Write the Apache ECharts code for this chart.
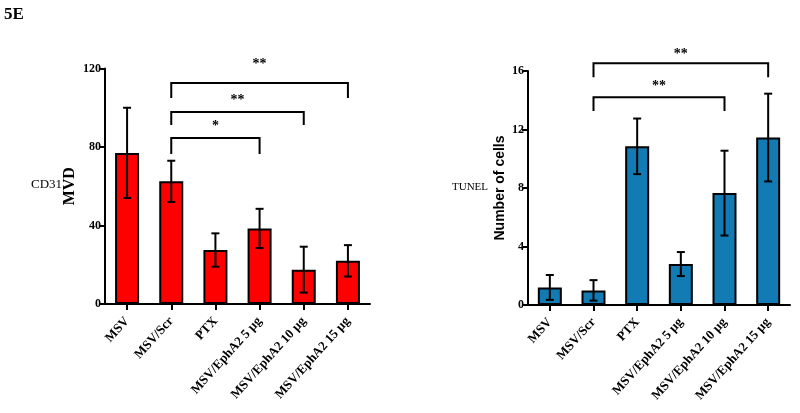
<!DOCTYPE html>
<html>
<head>
<meta charset="utf-8">
<script src="https://cdn.jsdelivr.net/npm/echarts@6/dist/echarts.min.js"></script>
<style>html,body{margin:0;padding:0;background:#fff}#c{width:800px;height:413px}</style>
</head>
<body>
<div id="c"></div>
<script>
const categories = ['MSV', 'MSV/Scr', 'PTX', 'MSV/EphA2 5 µg', 'MSV/EphA2 10 µg', 'MSV/EphA2 15 µg'];
const cd31Mean = [77, 62.5, 27.5, 38.5, 17.5, 22];
const cd31Err = [23, 10.5, 8.5, 10, 11.7, 8];
const tunelMean = [1.2, 1.0, 10.85, 2.8, 7.65, 11.45];
const tunelErr = [0.85, 0.7, 1.9, 0.82, 2.9, 3.0];
const cd31Axis = { min: 0, max: 120, interval: 40 };
const tunelAxis = { min: 0, max: 16, interval: 4 };
// [from, to, bracket top, leg bottom, label y, label]
const cd31Sig = [
  [1, 3, 84.6, 76.4, 90.7, '*'],
  [1, 4, 97.8, 91.2, 104, '**'],
  [1, 5, 112.6, 105, 122.3, '**']
];
const tunelSig = [
  [1, 4, 14.2, 13.26, 14.93, '**'],
  [1, 5, 16.53, 15.57, 17.14, '**']
];

const SERIF = 'Liberation Serif';
const SANS = 'Liberation Sans';

function errData(mean, err) {
  return mean.map((m, i) => [i, m - err[i], m + err[i]]);
}
function errRender(params, api) {
  const x = api.value(0);
  const lo = api.coord([x, api.value(1)]);
  const hi = api.coord([x, api.value(2)]);
  const w = 4;
  const st = { stroke: '#000', lineWidth: 2 };
  return { type: 'group', children: [
    { type: 'line', shape: { x1: lo[0], y1: lo[1], x2: hi[0], y2: hi[1] }, style: st },
    { type: 'line', shape: { x1: hi[0] - w, y1: hi[1], x2: hi[0] + w, y2: hi[1] }, style: st },
    { type: 'line', shape: { x1: lo[0] - w, y1: lo[1], x2: lo[0] + w, y2: lo[1] }, style: st }
  ]};
}
function sigRender(params, api) {
  const a = api.value(0), b = api.value(1);
  const top = api.value(2), leg = api.value(3), ty = api.value(4);
  const p1 = api.coord([a, leg]), p2 = api.coord([a, top]);
  const p3 = api.coord([b, top]), p4 = api.coord([b, leg]);
  const t = api.coord([a, ty]);
  const tx = (p2[0] + p3[0]) / 2;
  return { type: 'group', children: [
    { type: 'polyline', shape: { points: [p1, p2, p3, p4] }, style: { stroke: '#000', lineWidth: 2, fill: null } },
    { type: 'text', x: tx, y: t[1], style: { text: api.value(5), fill: '#000', font: 'bold 14px ' + SERIF, textAlign: 'center', textVerticalAlign: 'middle' } }
  ]};
}

function xAxisDef(grid) {
  return {
    type: 'category', gridIndex: grid, data: categories,
    axisLine: { show: true, lineStyle: { color: '#000', width: 2 } },
    axisTick: { show: true, alignWithLabel: true, length: 6, lineStyle: { color: '#000', width: 2 } },
    axisLabel: { interval: 0, rotate: 48, margin: 15, color: '#000', fontFamily: SERIF, fontWeight: 'bold', fontSize: 13 },
    splitLine: { show: false }
  };
}
function yAxisDef(grid, ax, name, nameFont, nameSize, nameGap) {
  return {
    type: 'value', gridIndex: grid, min: ax.min, max: ax.max, interval: ax.interval,
    name: name, nameLocation: 'middle', nameRotate: 90, nameGap: nameGap,
    nameTextStyle: { color: '#000', fontFamily: nameFont, fontWeight: 'bold', fontSize: nameSize },
    axisLine: { show: true, lineStyle: { color: '#000', width: 2 } },
    axisTick: { show: true, length: 6, lineStyle: { color: '#000', width: 2 } },
    axisLabel: { margin: 4, color: '#000', fontFamily: SERIF, fontWeight: 'bold', fontSize: 12 },
    splitLine: { show: false }
  };
}

const chart = echarts.init(document.getElementById('c'), null, { renderer: 'canvas' });
chart.setOption({
  animation: false,
  backgroundColor: '#fff',
  grid: [
    { left: 105, right: 430, top: 68.5, bottom: 109, containLabel: false },
    { left: 528, right: 10, top: 71, bottom: 108, containLabel: false }
  ],
  xAxis: [xAxisDef(0), xAxisDef(1)],
  yAxis: [yAxisDef(0, cd31Axis, 'MVD', SERIF, 16, 27), yAxisDef(1, tunelAxis, 'Number of cells', SANS, 14, 21)],
  graphic: [
    { type: 'text', left: 4, top: 6, style: { text: '5E', fill: '#000', font: 'bold 17px ' + SERIF } },
    { type: 'text', x: 31, y: 185, style: { text: 'CD31', fill: '#000', font: '13px ' + SERIF, textVerticalAlign: 'middle' } },
    { type: 'text', x: 452, y: 187, style: { text: 'TUNEL', fill: '#000', font: '11px ' + SERIF, textVerticalAlign: 'middle' } }
  ],
  series: [
    { type: 'bar', xAxisIndex: 0, yAxisIndex: 0, data: cd31Mean, barWidth: 24,
      itemStyle: { color: '#ff0000', borderColor: '#000', borderWidth: 2 } },
    { type: 'custom', xAxisIndex: 0, yAxisIndex: 0, data: errData(cd31Mean, cd31Err), renderItem: errRender, z: 5 },
    { type: 'custom', xAxisIndex: 0, yAxisIndex: 0, data: cd31Sig, renderItem: sigRender, z: 5, clip: false },
    { type: 'bar', xAxisIndex: 1, yAxisIndex: 1, data: tunelMean, barWidth: 24,
      itemStyle: { color: '#127bb3', borderColor: '#000', borderWidth: 2 } },
    { type: 'custom', xAxisIndex: 1, yAxisIndex: 1, data: errData(tunelMean, tunelErr), renderItem: errRender, z: 5 },
    { type: 'custom', xAxisIndex: 1, yAxisIndex: 1, data: tunelSig, renderItem: sigRender, z: 5, clip: false }
  ]
});
</script>
</body>
</html>
